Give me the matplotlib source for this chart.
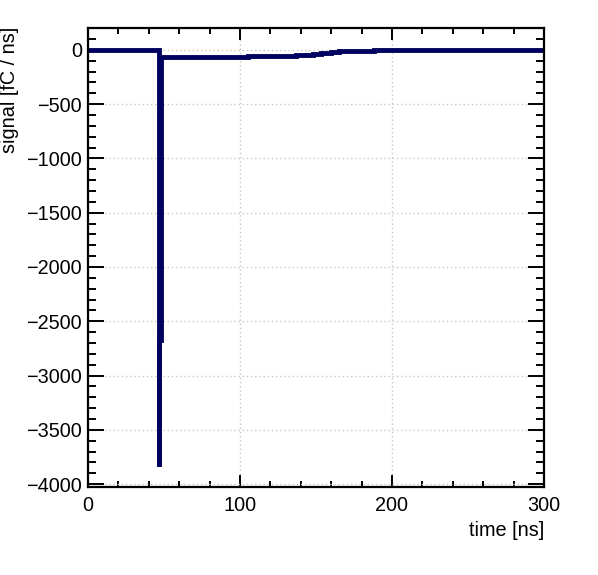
import matplotlib
matplotlib.use("Agg")
import matplotlib.pyplot as plt
import numpy as np
from matplotlib.ticker import MultipleLocator

# step edges [ns] and signal per step [fC/ns]
t_edges = [0, 46.5, 47.0, 47.8, 105, 137, 148, 153.5, 160, 165, 188, 300]
signal = [0, -3830, -2670, -69, -60, -51, -39, -29, -20, -11, -2]

plt.rcParams['font.family'] = ['Liberation Sans', 'DejaVu Sans']
plt.rcParams['font.size'] = 14.3

fig = plt.figure(figsize=(5.98, 5.75), dpi=100)
ax = fig.add_axes([88/598, 1 - 487/575, 456/598, 459/575])

ax.stairs(signal, t_edges, color='#00005e', linewidth=3.5, baseline=None)

ax.set_xlim(0, 300)
ax.set_ylim(-4027, 202)

ax.xaxis.set_major_locator(MultipleLocator(100))
ax.xaxis.set_minor_locator(MultipleLocator(20))
ax.yaxis.set_major_locator(MultipleLocator(500))
ax.yaxis.set_minor_locator(MultipleLocator(100))

ax.grid(True, which='major', color='#c8c8c8', linestyle=(0, (1, 2)), linewidth=1)
ax.set_axisbelow(True)

for s in ax.spines.values():
    s.set_linewidth(1.6)

ax.tick_params(axis='both', which='both', direction='in', top=True, right=True, width=1.4)
ax.tick_params(axis='x', which='major', length=8.6, pad=6.5)
ax.tick_params(axis='x', which='minor', length=4.3)
ax.tick_params(axis='y', which='major', length=11.5, pad=4.5)
ax.tick_params(axis='y', which='minor', length=5.8)

fig.text(544/598, 1 - 531/575, 'time [ns]', ha='right', va='center')
fig.text(10/598, 1 - 27/575, 'signal [fC / ns]', rotation=90, ha='center', va='top')

fig.savefig('out.png', dpi=100)
